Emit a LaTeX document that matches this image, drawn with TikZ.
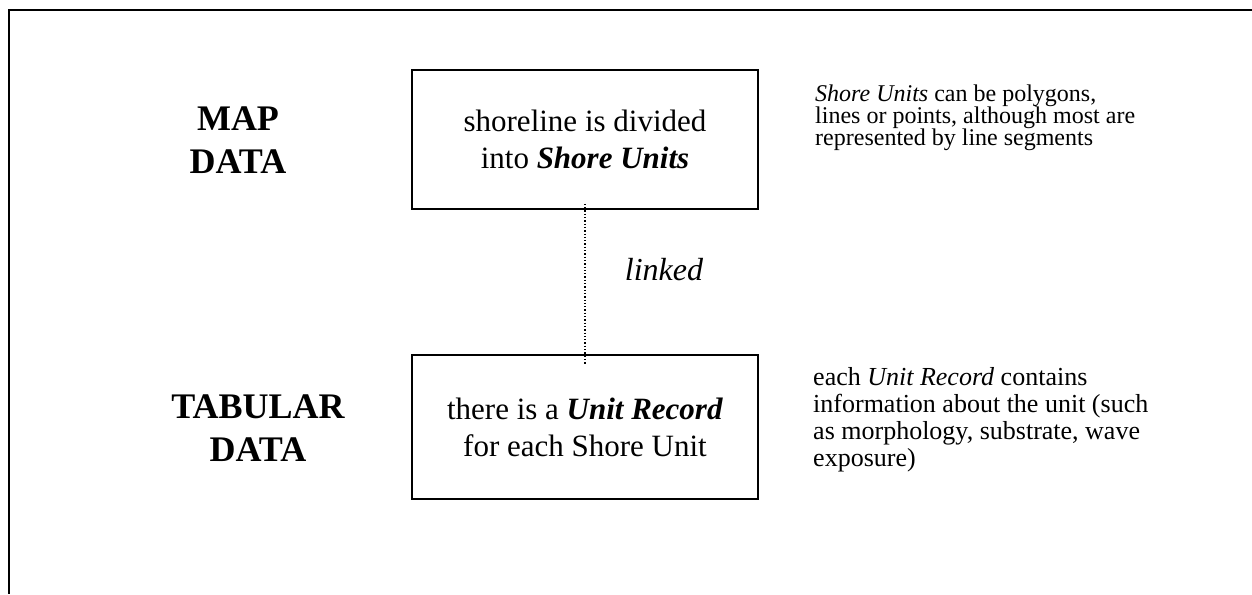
\documentclass[tikz,border=0pt]{standalone}
\usepackage{fontspec}
\setmainfont{Liberation Serif}
\usetikzlibrary{positioning}

\tikzset{
  unitbox/.style={draw, line width=1.6pt, rectangle, minimum width=346pt,
    align=center, inner sep=0pt, font=\fontsize{31}{37}\selectfont},
  sidelabel/.style={align=center, inner sep=0pt,
    font=\fontsize{36}{43}\selectfont\bfseries},
  sidenote/.style={align=left, anchor=north west, inner sep=0pt},
}

\begin{document}
\begin{tikzpicture}[x=1pt, y=-1pt]
    \useasboundingbox (0,0) rectangle (1252,594);
    %% Draw the frame
    \draw[line width=2.6pt] (1252,10) -- (9,10) -- (9,594);
    %% Draw the labels
    \node[sidelabel] (maplbl) at (238,140) {MAP\\DATA};
    \node[sidelabel] (tablbl) at (258,428) {TABULAR\\DATA};
    %% Draw the boxes
    \node[unitbox, minimum height=139pt] (mapbox) at (585,139.5)
      {shoreline is divided\\into \textbf{\textit{Shore Units}}};
    \node[unitbox, minimum height=144pt] (tabbox) at (585,427)
      {there is a \textbf{\textit{Unit Record}}\\for each Shore Unit};
    %% Draw the notes
    \node[sidenote, font=\fontsize{24}{22}\selectfont] (mapnote) at (815,85)
      {\textit{Shore Units} can be polygons,\\lines or points, although most are\\represented by line segments};
    \node[sidenote, font=\fontsize{26}{27}\selectfont] (tabnote) at (813,367)
      {each \textit{Unit Record} contains\\information about the unit (such\\as morphology, substrate, wave\\exposure)};
    %% Draw the link
    \node[font=\fontsize{32}{37}\selectfont\itshape, anchor=base] (linked) at (664,280) {linked};
    \draw[dotted, line width=1.3pt] ([yshift=6pt]mapbox.south) -- ([yshift=-10pt]tabbox.north);
  \end{tikzpicture}
\end{document}
